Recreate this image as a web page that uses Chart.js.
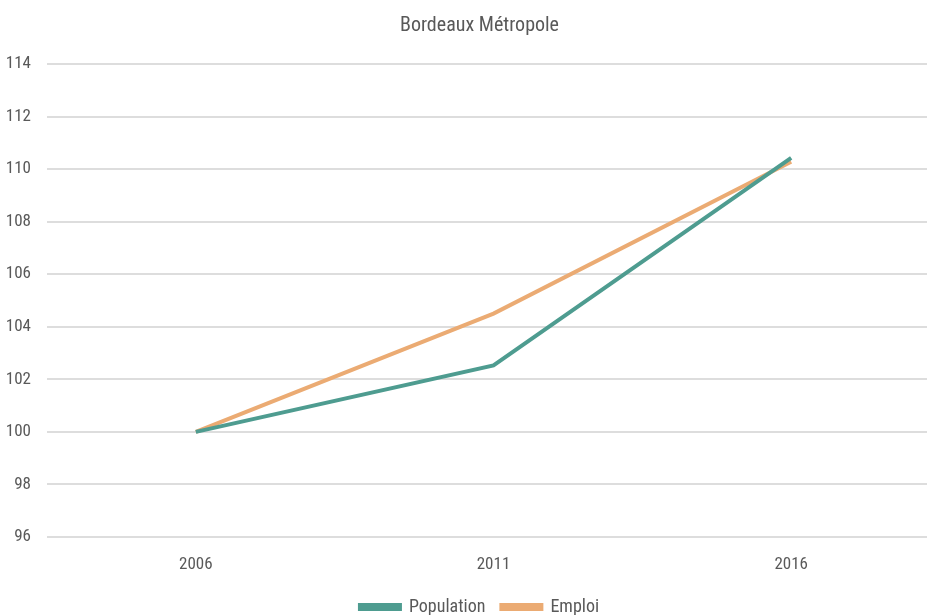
<!DOCTYPE html>
<html>
<head>
<meta charset="utf-8">
<script src="https://cdn.jsdelivr.net/npm/chart.js@4"></script>
<style>
  html, body { margin: 0; padding: 0; background: #fff; overflow: hidden; }
  #wrap { position: relative; width: 940px; height: 626px; }
</style>
</head>
<body>
<div id="wrap"><canvas id="c"></canvas></div>
<script>
const years = ['2006', '2011', '2016'];
const population = [100, 102.53, 110.43];
const emploi = [100, 104.5, 110.28];
const yTicks = [96, 98, 100, 102, 104, 106, 108, 110, 112, 114];

const FONT = "'Roboto Condensed', 'Roboto', sans-serif";
const TEXT = '#595959';

// Let the y-axis label box reach the left edge of the canvas so labels are not clipped
const yAxisToEdge = {
  id: 'yAxisToEdge',
  afterLayout(chart) {
    const y = chart.scales.y;
    y.left = 0;
    y.width = y.right;
  }
};

new Chart(document.getElementById('c'), {
  type: 'line',
  data: {
    labels: years,
    datasets: [
      { label: 'Population', data: population, borderColor: '#4E9C90', backgroundColor: '#4E9C90',
        borderWidth: 4, pointRadius: 0, tension: 0 },
      { label: 'Emploi', data: emploi, borderColor: '#EBAB73', backgroundColor: '#EBAB73',
        borderWidth: 4, pointRadius: 0, tension: 0 }
    ]
  },
  plugins: [yAxisToEdge],
  options: {
    responsive: true,
    maintainAspectRatio: false,
    animation: false,
    layout: { padding: { left: 19, right: 0, top: 0, bottom: 0 } },
    plugins: {
      title: {
        display: true, text: 'Bordeaux Métropole', color: TEXT,
        font: { family: FONT, size: 20, weight: 'normal' },
        padding: { top: 14, bottom: 26 }
      },
      legend: {
        position: 'bottom',
        labels: {
          color: TEXT, font: { family: FONT, size: 18 },
          boxWidth: 40, boxHeight: 4, padding: 16
        }
      },
      tooltip: { enabled: false }
    },
    scales: {
      x: {
        offset: true,
        grid: { display: false },
        border: { display: false },
        ticks: { color: TEXT, font: { family: FONT, size: 17 }, padding: 10 },
        afterFit: (axis) => { axis.height = 45; }
      },
      y: {
        min: yTicks[0], max: yTicks[yTicks.length - 1],
        afterBuildTicks: (axis) => { axis.ticks = yTicks.map(v => ({ value: v })); },
        grid: { color: '#DDDDDD', lineWidth: 2, drawTicks: false },
        border: { display: false },
        ticks: { color: TEXT, font: { family: FONT, size: 17 }, padding: 16 },
        afterFit: (axis) => { axis.width = 28; }
      }
    }
  }
});
</script>
</body>
</html>
